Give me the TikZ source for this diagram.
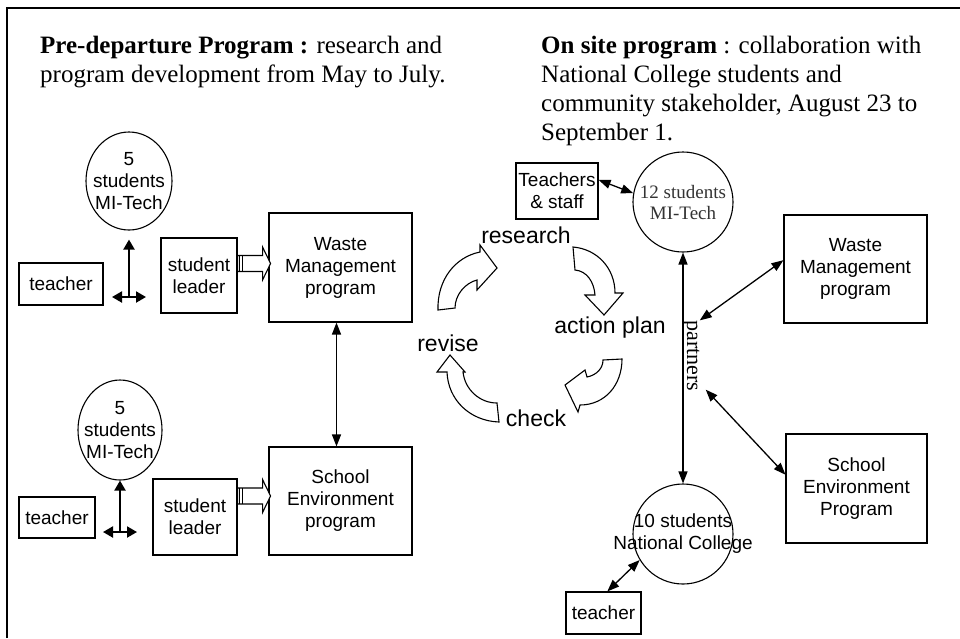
\documentclass[tikz,border=0pt]{standalone}
\usepackage{fontspec}
\setmainfont{Liberation Serif}
\setsansfont{Liberation Sans}
\usetikzlibrary{arrows.meta,shapes.geometric,calc}

\begin{document}
\begin{tikzpicture}[x=1pt,y=-1pt,
  title/.style={anchor=north west,inner sep=0pt,align=left,font=\fontsize{25}{29}\selectfont},
  box/.style={draw,line width=1.1pt,inner sep=0pt,align=center,font=\fontsize{19}{22}\selectfont\sffamily},
  oval/.style={draw,ellipse,line width=1.1pt,inner sep=0pt,minimum width=86pt,minimum height=98pt},
  round/.style={draw,circle,line width=1.1pt,inner sep=0pt,minimum size=100pt},
  inside/.style={inner sep=0pt,align=center,font=\fontsize{19}{22}\selectfont\sffamily},
  cyc/.style={inner sep=0pt,font=\fontsize{23}{27}\selectfont\sffamily},
  link/.style={line width=1.3pt,{Triangle[length=12pt,width=9pt]}-{Triangle[length=12pt,width=9pt]}},
  cross/.style={line width=2pt,-{Triangle[length=10pt,width=11pt]}},
  hollow/.style={draw,line width=1.1pt,fill=white,line join=miter}]
  \useasboundingbox (0,0) rectangle (960,638);
  \draw[line width=1.3pt] (7,638) -- (7,8) -- (960,8);
  \node[title] (pre) at (40,36) {\textbf{Pre-departure Program :} research and\\program development from May to July.};
  \node[title] (onsite) at (541,36) {\textbf{On site program} : collaboration with\\National College students and\\community stakeholder, August 23 to\\September 1.};

  \node[oval] (stu1) at (129,181) {};
  \node[inside] (stu1t) at (stu1) {5\\students\\MI-Tech};
  \node[box,minimum width=84pt,minimum height=42pt] (tch1) at (61,284) {teacher};
  \node[box,minimum width=76pt,minimum height=75pt] (lead1) at (199,275.5) {student\\leader};
  \node[box,minimum width=143pt,minimum height=109pt] (waste1) at (340.5,267.5) {Waste\\Management\\program};
  \node[oval,minimum width=84pt,minimum height=100pt] (stu2) at (120,430) {};
  \node[inside] (stu2t) at (stu2) {5\\students\\MI-Tech};
  \node[box,minimum width=76pt,minimum height=41pt] (tch2) at (57,517.5) {teacher};
  \node[box,minimum width=84pt,minimum height=76pt] (lead2) at (195,517) {student\\leader};
  \node[box,minimum width=143pt,minimum height=108pt] (school1) at (340.5,501) {School\\Environment\\program};

  \coordinate (c1) at (129,297);
  \coordinate (c1l) at (112,297);
  \coordinate (c1r) at (146,297);
  \draw[cross,shorten >=9pt] (c1) -- (stu1.south);
  \draw[cross,{Triangle[length=10pt,width=11pt]}-{Triangle[length=10pt,width=11pt]}] (c1l) -- (c1r);
  \coordinate (c2) at (120,532);
  \coordinate (c2l) at (103,532);
  \coordinate (c2r) at (137,532);
  \draw[cross] (c2) -- (stu2.south);
  \draw[cross,{Triangle[length=10pt,width=11pt]}-{Triangle[length=10pt,width=11pt]}] (c2l) -- (c2r);

  \draw[hollow] ($(lead1.east)+(0,-20)$) -- ++(25,0) -- ++(0,-8.5) -- ++(8,16.5) -- ++(-8,16.5) -- ++(0,-8.5) -- ++(-25,0) -- cycle;
  \draw[line width=1pt] ($(lead1.east)+(2,-20)$) -- ++(0,16) ($(lead1.east)+(4.5,-20)$) -- ++(0,16);
  \draw[hollow] ($(lead2.east)+(0,-29)$) -- ++(25,0) -- ++(0,-8.5) -- ++(8,16.5) -- ++(-8,16.5) -- ++(0,-8.5) -- ++(-25,0) -- cycle;
  \draw[line width=1pt] ($(lead2.east)+(2,-29)$) -- ++(0,16) ($(lead2.east)+(4.5,-29)$) -- ++(0,16);
  \draw[link] ($(waste1.south)+(-4,0)$) -- ($(school1.north)+(-4,0)$);

  \node[cyc] (research) at (526,235) {research};
  \node[cyc] (action) at (610,328) {action plan};
  \node[cyc] (revise) at (448,343) {revise};
  \node[cyc] (check) at (536,418) {check};
  \draw[hollow] (438,310) .. controls (437,280) and (455,257) .. (480,252) -- (480,245) -- (497,268) -- (477,290) -- (477,280) .. controls (465,283) and (455,295) .. (455,308) -- cycle;
  \draw[hollow] (573,247) .. controls (597,249) and (615,268) .. (615,293) -- (623,293) -- (604,315) -- (585,295) -- (595,295) .. controls (594,282) and (587,271) .. (575,270) -- cycle;
  \draw[hollow] (622,359) .. controls (622,385) and (605,405) .. (580,405) -- (578,412) -- (565,385) -- (585,370) -- (587,377) .. controls (597,375) and (603,368) .. (603,360) -- cycle;
  \draw[hollow] (499,422) .. controls (470,421) and (448,400) .. (447,372) -- (437,372) -- (450,355) -- (465,372) -- (463,372) .. controls (465,390) and (480,403) .. (497,403) -- cycle;

  \node[box,minimum width=82pt,minimum height=56pt] (staff) at (557,191) {Teachers\\\& staff};
  \node[round] (mi12) at (683,202) {};
  \node[inside,font=\fontsize{19}{21}\selectfont\rmfamily,text=black!80] (mi12t) at (mi12) {12 students\\MI-Tech};
  \node[round] (nc10) at (683,534) {};
  \node[inside] (nc10t) at (nc10) {10 students\\National College};
  \node[box,minimum width=143pt,minimum height=108pt] (waste2) at (855.5,269) {Waste\\Management\\program};
  \node[box,minimum width=141pt,minimum height=109pt] (school2) at (856.5,488.5) {School\\Environment\\Program};
  \node[box,minimum width=75pt,minimum height=42pt] (tch3) at (603.5,613) {teacher};
  \node[inner sep=0pt,rotate=-90,font=\fontsize{22}{24}\selectfont] (ptn) at (691,356) {partners};

  \draw[link] (staff.15) -- (mi12.170);
  \draw[link] (mi12.south) -- (nc10.north);
  \draw[link] (ptn.north west) -- (waste2.173);
  \draw[link] ($(ptn.north east)+(6,-2)$) -- (school2.169);
  \draw[link] (tch3.80) -- (nc10.211);
\end{tikzpicture}
\end{document}
